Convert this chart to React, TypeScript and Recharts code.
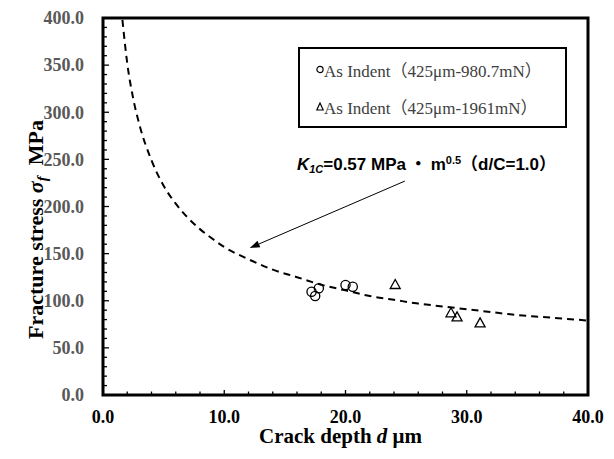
import React from 'react';
import {
  ComposedChart,
  Line,
  Scatter,
  XAxis,
  YAxis,
  ReferenceLine,
  Legend,
  Label,
} from 'recharts';

// fitted curve
const curveDepth = [1.6, 2, 2.5, 3, 4, 5, 6, 7, 8, 9, 10, 12, 14, 16, 18, 20, 22, 24, 26, 28, 30, 32, 34, 36, 38, 40];
const curveStress = [398, 352, 314, 287, 249, 222, 203, 188, 176, 166, 157, 144, 133, 125, 117, 111, 105, 101, 97, 94, 91, 88, 85, 83, 81, 79];

// As Indent (425um-980.7mN)
const lowDepth = [17.2, 17.5, 17.8, 20.0, 20.6];
const lowStress = [109.6, 105.0, 113.2, 116.7, 114.9];

// As Indent (425um-1961mN)
const highDepth = [24.1, 28.7, 29.2, 31.1];
const highStress = [116.7, 86.7, 82.4, 76.0];

const lowName = 'As Indent（425μm-980.7mN）';
const highName = 'As Indent（425μm-1961mN）';
const legendOrder = [lowName, highName];

const X_MAX = 40;
const Y_MAX = 400;
const xTicks = Array.from({ length: 21 }, (_, i) => i * 2);
const yTicks = Array.from({ length: 41 }, (_, i) => i * 10);

const curveData = curveDepth.map((d, i) => ({ d, s: curveStress[i] }));
const lowData = lowDepth.map((d, i) => ({ d, s: lowStress[i] }));
const highData = highDepth.map((d, i) => ({ d, s: highStress[i] }));

const serif = "'Liberation Serif', 'Times New Roman', 'Noto Sans CJK JP', serif";
const sans = "'Liberation Sans', Arial, 'Noto Sans CJK JP', sans-serif";
const cjk = "'Noto Sans CJK JP', sans-serif";

const XTick = (props: any) => {
  const { x, y, payload } = props;
  const v = payload.value;
  if (v % 10 !== 0) return <g />;
  return (
    <text x={x} y={y + 28} textAnchor="middle" fontFamily={serif} fontWeight="bold" fontSize={18} fill="#000">
      {v.toFixed(1)}
    </text>
  );
};

const YTick = (props: any) => {
  const { x, y, payload } = props;
  const v = payload.value;
  if (v % 50 !== 0) return <g />;
  return (
    <text x={x - 19} y={y} dy="0.35em" textAnchor="end" fontFamily={serif} fontWeight="bold" fontSize={18} fill="#595959">
      {v.toFixed(1)}
    </text>
  );
};

// plot frame with inward ticks; gets the pixel corners of (0,0) and (X_MAX,Y_MAX)
const Frame = (props: any) => {
  const { x1, y1, x2, y2 } = props;
  const px = (v: number) => x1 + (v / X_MAX) * (x2 - x1);
  const py = (v: number) => y1 + (v / Y_MAX) * (y2 - y1);
  return (
    <g>
      <rect x={x1} y={y2} width={x2 - x1} height={y1 - y2} fill="none" stroke="#000" strokeWidth={3} />
      {xTicks.map((v) => (
        <line key={`xt${v}`} x1={px(v)} x2={px(v)} y1={y1} y2={y1 - (v % 10 === 0 ? 5 : 3.5)} stroke="#000" strokeWidth={1.3} />
      ))}
      {yTicks.map((v) => (
        <line key={`yt${v}`} x1={x1} x2={x1 + (v % 50 === 0 ? 6 : 4)} y1={py(v)} y2={py(v)} stroke="#000" strokeWidth={1.3} />
      ))}
    </g>
  );
};

const Circle = (props: any) => {
  const { cx, cy } = props;
  return <circle cx={cx} cy={cy} r={4.6} fill="none" stroke="#000" strokeWidth={1.3} />;
};

const Triangle = (props: any) => {
  const { cx, cy } = props;
  return (
    <polygon
      points={`${cx},${cy - 5.5} ${cx - 5},${cy + 3.5} ${cx + 5},${cy + 3.5}`}
      fill="none"
      stroke="#000"
      strokeWidth={1.3}
    />
  );
};

const renderXTitle = (props: any) => {
  const { viewBox } = props;
  const cx = viewBox.x + viewBox.width / 2 - 5;
  return (
    <text x={cx} y={viewBox.y + 48} textAnchor="middle" fontFamily={serif} fontWeight="bold" fontSize={21} fill="#000">
      Crack depth <tspan fontStyle="italic">d</tspan> μm
    </text>
  );
};

const renderYTitle = (props: any) => {
  const { viewBox } = props;
  const cy = viewBox.y + viewBox.height / 2 + 23;
  return (
    <text
      x={43}
      y={cy}
      transform={`rotate(-90, 43, ${cy})`}
      textAnchor="middle"
      fontFamily={serif}
      fontWeight="bold"
      fontSize={22}
      fill="#000"
    >
      Fracture stress <tspan fontStyle="italic">σ</tspan>
      <tspan fontStyle="italic" fontSize={15} dy={4}>f</tspan>
      <tspan dy={-4}>{'\u00a0\u00a0'}MPa</tspan>
    </text>
  );
};

// arrow + K1C note, anchored to the arrow's start point
const ArrowNote = (props: any) => {
  const { x1, y1, x2, y2 } = props;
  const ang = Math.atan2(y2 - y1, x2 - x1);
  const hl = 10;
  const hw = 3.5;
  const bx = x2 - hl * Math.cos(ang);
  const by = y2 - hl * Math.sin(ang);
  const px = -Math.sin(ang) * hw;
  const py = Math.cos(ang) * hw;
  return (
    <g>
      <line x1={x1} y1={y1} x2={bx} y2={by} stroke="#000" strokeWidth={1} />
      <polygon points={`${x2},${y2} ${bx + px},${by + py} ${bx - px},${by - py}`} fill="#000" />
      <text x={x1 - 108} y={y1 - 11} fontFamily={sans} fontWeight="bold" fontSize={17} fill="#000">
        <tspan fontStyle="italic">K</tspan>
        <tspan fontStyle="italic" fontSize={11} dy={3}>1C</tspan>
        <tspan dy={-3}>=0.57 MPa</tspan>
        <tspan fontFamily={cjk}>{' ・ '}</tspan>
        <tspan>m</tspan>
        <tspan fontSize={11} dy={-6}>0.5</tspan>
        <tspan dy={6} fontFamily={cjk}>（</tspan>
        <tspan>d/C=1.0</tspan>
        <tspan fontFamily={cjk}>）</tspan>
      </text>
    </g>
  );
};

const renderLegend = (props: any) => {
  const items = (props.payload || [])
    .filter((p: any) => legendOrder.includes(p.value))
    .sort((a: any, b: any) => legendOrder.indexOf(a.value) - legendOrder.indexOf(b.value));
  return (
    <div
      style={{
        position: 'relative',
        width: 269,
        height: 81,
        border: '2px solid #000',
        boxSizing: 'border-box',
        background: '#fff',
        fontFamily: serif,
        fontSize: 17,
        color: '#404040',
      }}
    >
      {items.map((item: any, i: number) => (
        <div
          key={item.value}
          style={{ position: 'absolute', left: 16, top: i === 0 ? 9 : 46, height: 22, display: 'flex', alignItems: 'center', whiteSpace: 'nowrap' }}
        >
          <svg width={8} height={9}>
            {item.value === lowName ? (
              <circle cx={4} cy={4.5} r={3.1} fill="none" stroke="#000" strokeWidth={1.2} />
            ) : (
              <polygon points="4,1 0.8,8 7.2,8" fill="none" stroke="#000" strokeWidth={1.2} />
            )}
          </svg>
          <span>{item.value}</span>
        </div>
      ))}
    </div>
  );
};

export default function App() {
  return (
    <div style={{ position: 'absolute', left: 0, top: 0, width: 614, height: 459, background: '#fff' }}>
      <ComposedChart width={614} height={459} margin={{ top: 18, right: 26, bottom: 0, left: 0 }}>
        <XAxis
          type="number"
          dataKey="d"
          domain={[0, X_MAX]}
          ticks={xTicks}
          interval={0}
          allowDataOverflow
          axisLine={false}
          tickLine={false}
          tickSize={0}
          tickMargin={0}
          tick={<XTick />}
          height={64}
        >
          <Label content={renderXTitle} />
        </XAxis>
        <YAxis
          type="number"
          dataKey="s"
          domain={[0, Y_MAX]}
          ticks={yTicks}
          interval={0}
          allowDataOverflow
          axisLine={false}
          tickLine={false}
          tickSize={0}
          tickMargin={0}
          tick={<YTick />}
          width={103}
        >
          <Label content={renderYTitle} />
        </YAxis>
        <ReferenceLine
          segment={[{ x: 0, y: 0 }, { x: X_MAX, y: Y_MAX }]}
          shape={<Frame />}
          ifOverflow="visible"
        />
        <Line
          data={curveData}
          dataKey="s"
          type="monotone"
          stroke="#000"
          strokeWidth={2}
          strokeDasharray="7 5"
          dot={false}
          activeDot={false}
          legendType="none"
          isAnimationActive={false}
        />
        <Scatter name={lowName} data={lowData} dataKey="s" shape={<Circle />} isAnimationActive={false} />
        <Scatter name={highName} data={highData} dataKey="s" shape={<Triangle />} isAnimationActive={false} />
        <ReferenceLine
          segment={[{ x: 24.9, y: 227 }, { x: 12.1, y: 156 }]}
          shape={<ArrowNote />}
          ifOverflow="visible"
        />
        <Legend
          layout="vertical"
          align="center"
          verticalAlign="middle"
          content={renderLegend}
          wrapperStyle={{ left: 298, top: 47, width: 269, height: 81 }}
        />
      </ComposedChart>
    </div>
  );
}
